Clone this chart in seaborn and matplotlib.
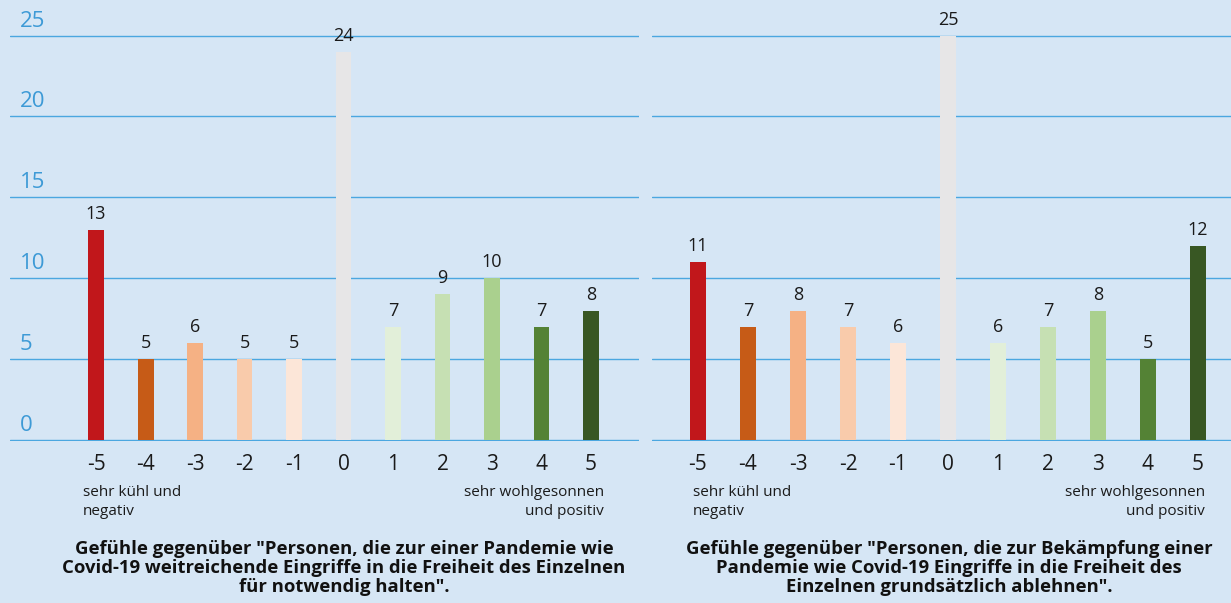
import numpy as np
import pandas as pd
import seaborn as sns
import matplotlib.pyplot as plt
from matplotlib import transforms

# scale points from very negative to very positive
categories = ["-5", "-4", "-3", "-2", "-1", "0", "1", "2", "3", "4", "5"]

# percent of respondents per scale point
left_values = [13, 5, 6, 5, 5, 24, 7, 9, 10, 7, 8]
right_values = [11, 7, 8, 7, 6, 25, 6, 7, 8, 5, 12]

bar_colors = ["#c1171b", "#c65b17", "#f5b184", "#f9cbab", "#fce6d8", "#e7e6e7",
              "#e2efd9", "#c6e0b3", "#aad08e", "#548235", "#385723"]

y_ticks = [0, 5, 10, 15, 20, 25]

left_title = ('Gefühle gegenüber "Personen, die zur einer Pandemie wie\n'
              'Covid-19 weitreichende Eingriffe in die Freiheit des Einzelnen\n'
              'für notwendig halten".')
right_title = ('Gefühle gegenüber "Personen, die zur Bekämpfung einer\n'
               'Pandemie wie Covid-19 Eingriffe in die Freiheit des\n'
               'Einzelnen grundsätzlich ablehnen".')

low_label = "sehr kühl und\nnegativ"
high_label = "sehr wohlgesonnen\nund positiv"

bg = "#d6e6f5"
grid_col = "#4ba7e0"

sns.set_style("white")
plt.rcParams['font.family'] = ['Open Sans', 'DejaVu Sans']

W, H = 1231, 603
fig = plt.figure(figsize=(W / 100, H / 100), dpi=100, facecolor=bg)

# axes bottom sits 1px below the zero line so the baseline is not clipped
ax_bottom = (H - 441) / H
ax_h = 1 - ax_bottom
axL = fig.add_axes([10 / W, ax_bottom, 629 / W, ax_h])
axR = fig.add_axes([652 / W, ax_bottom, 579 / W, ax_h])


def draw_panel(ax, values, xlim):
    df = pd.DataFrame({"cat": categories, "val": values})
    sns.barplot(data=df, x="cat", y="val", hue="cat", palette=bar_colors,
                width=0.32, legend=False, ax=ax, saturation=1, linewidth=0)
    ax.set_facecolor(bg)
    ax.set_xlim(*xlim)
    ax.set_ylim(-0.062, 27.2)
    ax.set_yticks(y_ticks)
    ax.set_yticklabels([])
    ax.yaxis.grid(True, color=grid_col, lw=1.0)
    ax.set_axisbelow(True)
    ax.tick_params(axis="both", length=0)
    ax.tick_params(axis="x", labelsize=15, labelcolor="#1a1a1a", pad=9.3)
    for s in ax.spines.values():
        s.set_visible(False)
    ax.set_xlabel("")
    ax.set_ylabel("")
    for c in ax.containers:
        ax.bar_label(c, padding=5, fontsize=13, color="#1a1a1a")


draw_panel(axL, left_values, (-1.74, 10.97))
draw_panel(axR, right_values, (-0.92, 10.66))

# y labels sit above the gridlines, inside the left panel
tr = transforms.blended_transform_factory(axL.transAxes, axL.transData)
tr = tr + transforms.ScaledTranslation(0.10, 0.09, fig.dpi_scale_trans)
for v in y_ticks:
    axL.text(0, v, str(v), transform=tr, ha="left", va="baseline",
             fontsize=16, color="#3d9ad6")

# scale end descriptions
note_kw = dict(va="center", fontsize=11, color="#1a1a1a", linespacing=1.4)
fig.text(83 / W, 1 - 502 / H, low_label, ha="left", **note_kw)
fig.text(604 / W, 1 - 502 / H, high_label, ha="right", multialignment="right", **note_kw)
fig.text(693 / W, 1 - 502 / H, low_label, ha="left", **note_kw)
fig.text(1205 / W, 1 - 502 / H, high_label, ha="right", multialignment="right", **note_kw)

# panel captions
cap_kw = dict(ha="center", va="center", fontsize=13.3, fontweight="bold",
              color="#111111", linespacing=1.1)
fig.text(344 / W, 1 - 568 / H, left_title, **cap_kw)
fig.text(949 / W, 1 - 568 / H, right_title, **cap_kw)

fig.savefig("out.png", dpi=100, facecolor=bg)
